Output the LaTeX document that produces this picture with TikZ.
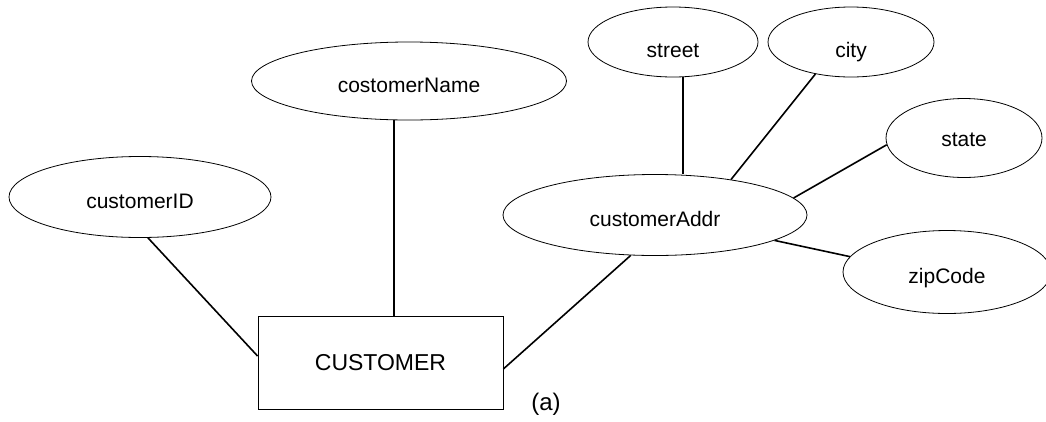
\documentclass[tikz,border=0pt]{standalone}
\usepackage{fontspec}
\setmainfont{Liberation Sans}
\usetikzlibrary{shapes.geometric}
\begin{document}
\begin{tikzpicture}[x=1pt,y=-1pt,
  attr/.style={draw, ellipse, line width=0.8pt, inner sep=0pt,
    font=\fontsize{21}{25}\selectfont, text height=22pt, text depth=0pt},
  entity/.style={draw, rectangle, line width=0.8pt, inner sep=0pt,
    font=\fontsize{23}{27}\selectfont},
  link/.style={line width=1.6pt}]
\useasboundingbox (0,0) rectangle (1046,421);

% entity
\node[entity, minimum width=245pt, minimum height=93pt] (rect) at (380.5,362.5) {CUSTOMER};

% attributes
\node[attr, minimum width=262pt, minimum height=81pt] (id) at (140,197) {customerID};
\node[attr, minimum width=315pt, minimum height=78pt] (name) at (409,81) {costomerName};
\node[attr, minimum width=304pt, minimum height=81pt] (addr) at (655,215) {customerAddr};
\node[attr, minimum width=170pt, minimum height=70pt, text height=31pt] (street) at (673,42) {street};
\node[attr, minimum width=166pt, minimum height=70pt, text height=31pt] (city) at (851,42) {city};
\node[attr, minimum width=156pt, minimum height=79pt, text height=16pt] (state) at (964,138) {state};
\node[attr, minimum width=208pt, minimum height=83pt] (zip) at (947,272) {zipCode};

% caption
\node[font=\fontsize{24}{28}\selectfont] (tag) at (546,404) {(a)};

% connectors
\draw[link] (id.-79) -- (rect.177);
\draw[link] (name.-111) -- (name.-111 |- rect.north);
\draw[link] (addr.-121.4) -- (rect.-3);
\draw[link] (street.-74) -- (street.-74 |- addr.north);
\draw[link] (city.-138) -- (addr.25);
\draw[link] (state.-175.6) -- (addr.7);
\draw[link] (addr.-12) -- (zip.171.5);
\end{tikzpicture}
\end{document}
